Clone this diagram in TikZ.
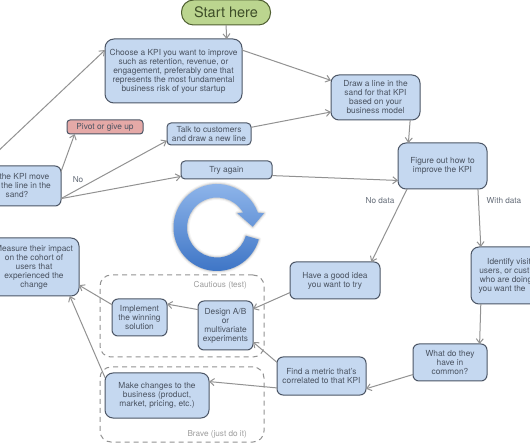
\documentclass[tikz,border=0pt]{standalone}
\usepackage{fontspec}
\setmainfont{TeX Gyre Heros}
\usetikzlibrary{arrows.meta}
\definecolor{boxfill}{HTML}{C5D8F0}
\definecolor{boxedge}{HTML}{4C5666}
\definecolor{boxtext}{HTML}{4A5361}
\definecolor{wire}{HTML}{929292}
\definecolor{ringtop}{HTML}{92B8EC}
\definecolor{ringbottom}{HTML}{3A72C4}
\tikzset{
  flowbox/.style={draw=boxedge,fill=boxfill,line width=1pt,rounded corners=6pt,inner sep=0pt,outer sep=0pt,
    align=center,text=boxtext,font=\fontsize{8.35}{9}\selectfont},
  wirearrow/.style={draw=wire,line width=1pt,-{Straight Barb[length=4.5pt,width=7pt,line width=1pt]}},
  groupbox/.style={draw=wire,line width=1pt,dash pattern=on 5pt off 4pt,rounded corners=11pt,inner sep=0pt,outer sep=0pt},
  edgetext/.style={inner sep=0pt,text=boxtext!85!white,font=\fontsize{8.2}{9}\selectfont},
  grouptext/.style={inner sep=0pt,text=black!38,font=\fontsize{8.2}{9}\selectfont},
}
\begin{document}
\begin{tikzpicture}[x=1pt,y=-1pt]
\useasboundingbox (0,0) rectangle (530,443);
\clip (0,0) rectangle (530,443);
\fill[white] (0,0) rectangle (530,443);

% dashed groups
\node[groupbox,minimum width=164pt,minimum height=82pt] (cautious) at (182,316) {};
\node[groupbox,minimum width=164pt,minimum height=75pt] (brave) at (182,404.5) {};
\node[grouptext,anchor=east] (cautiouslabel) at (247,285) {Cautious (test)};
\node[grouptext,anchor=east] (bravelabel) at (247,434) {Brave (just do it)};

% circular arrow
\begin{scope}[shift={(217,227.5)},x=1pt,y=1pt]
  \foreach \w/\o in {5/0.04,3/0.06,1.5/0.08}{
    \draw[black,opacity=\o,line width=\w pt,line join=round]
      (-16:43.5) arc[start angle=-16,end angle=-340,radius=43.5] -- (47,14.2) -- (35.7,0.8) -- (20.3,14.2) -- (30:30)
      arc[start angle=30,end angle=344,radius=30] -- cycle;
  }
  \shade[top color=ringtop,bottom color=ringbottom]
    (-16:43.5) arc[start angle=-16,end angle=-340,radius=43.5] -- (47,14.2) -- (35.7,0.8) -- (20.3,14.2) -- (30:30)
    arc[start angle=30,end angle=344,radius=30] -- cycle;
\end{scope}

% boxes
\node[flowbox,fill={rgb,255:red,187;green,213;blue,143},draw={rgb,255:red,80;green,96;blue,50},
  rounded corners=12pt,text={rgb,255:red,62;green,78;blue,40},font=\fontsize{14.5}{16}\selectfont,
  minimum width=89pt,minimum height=25pt] (start) at (226,12.5) {\raisebox{-2pt}{Start here}};
\node[flowbox,minimum width=137pt,minimum height=64pt,rounded corners=9pt] (kpi) at (173.5,71)
  {\raisebox{-1pt}{Choose a KPI you want to improve}\\\raisebox{-1pt}{such as retention, revenue, or}\\\raisebox{-1pt}{engagement, preferably one that}\\\raisebox{-1pt}{represents the most fundamental}\\\raisebox{-1pt}{business risk of your startup}};
\node[flowbox,minimum width=89pt,minimum height=45pt,rounded corners=8pt] (line) at (375.5,97.5)
  {Draw a line in the\\sand for that KPI\\based on your\\business model};
\node[flowbox,minimum width=89pt,minimum height=46pt,rounded corners=8pt] (figure) at (442.5,166)
  {Figure out how to\\improve the KPI};
\node[flowbox,fill={rgb,255:red,229;green,169;blue,167},rounded corners=3pt,
  minimum width=76pt,minimum height=14pt] (pivot) at (105,127) {Pivot or give up};
\node[flowbox,minimum width=84pt,minimum height=22pt,rounded corners=4pt] (talk) at (209,134)
  {Talk to customers\\and draw a new line};
\node[flowbox,minimum width=91pt,minimum height=18pt,rounded corners=4pt] (try) at (226.5,170) {Try again};
\node[flowbox,minimum width=88pt,minimum height=40pt] (move) at (17,186)
  {\phantom{Did }the KPI move\\\phantom{past }the line in the\\sand?};
\node[flowbox,minimum width=90pt,minimum height=58pt,rounded corners=8pt] (measure) at (34,267)
  {Measure their impact\\on the cohort of\\users that\\experienced the\\change};
\node[flowbox,minimum width=90pt,minimum height=57pt,rounded corners=8pt] (identify) at (516,275.5)
  {Identify visit\phantom{ors,}\\users, or cust\phantom{omers}\\who are doing\phantom{ what}\\you want the\phantom{m to do}};
\node[flowbox,minimum width=90pt,minimum height=37pt] (idea) at (335,280.5)
  {Have a good idea\\you want to try};
\node[flowbox,minimum width=74pt,minimum height=37pt] (common) at (450,362.5)
  {What do they\\have in\\common?};
\node[flowbox,minimum width=89pt,minimum height=38pt] (metric) at (321.5,376)
  {Find a metric that's\\correlated to that KPI};
\node[flowbox,minimum width=55pt,minimum height=49pt] (design) at (225.5,325.5)
  {Design A/B\\or\\multivariate\\experiments};
\node[flowbox,minimum width=55pt,minimum height=37pt] (implement) at (139.5,317.5)
  {Implement\\the winning\\solution};
\node[flowbox,minimum width=104pt,minimum height=45pt,rounded corners=8pt] (changes) at (157,395.5)
  {Make changes to the\\business (product,\\market, pricing, etc.)};

% connectors
\draw[wirearrow] (start.-90) -- (kpi.31);
\draw[wirearrow] (kpi.17) -- (line.159.7);
\draw[wirearrow] (talk.9.5) -- (line.198);
\draw[wirearrow] (line.-33) -- (figure.146.3);
\draw[wirearrow] (try.-7.5) -- (figure.198.6);
\draw[wirearrow] (move.18.8) -- (pivot.193);
\draw[wirearrow] (move.-16.5) -- (talk.189.5);
\draw[wirearrow] (move.-16.5) -- (try.188.7);
\draw[wirearrow] (move.150.3) -- (kpi.163);
\draw[wirearrow] (figure.213.7) -- (idea.27.2);
\draw[wirearrow] (figure.-33) -- (identify.141.6);
\draw[wirearrow] (identify.219.2) -- (common.32.5);
\draw[wirearrow] (common.198.7) -- (metric.-16.3);
\draw[wirearrow] (idea.195.5) -- (design.31);
\draw[wirearrow] (metric.163.7) -- (design.-31);
\draw[wirearrow] (metric.195) -- (changes.15.6);
\draw[wirearrow] (design.150.6) -- (implement.26.1);
\draw[wirearrow] (implement.155.6) -- (measure.-22.9);
\draw[wirearrow] (changes.161.4) -- (measure.-39.6);

% connector labels
\node[edgetext] (nolabel) at (78,180) {No};
\node[edgetext] (nodatalabel) at (380,201) {No data};
\node[edgetext] (withdatalabel) at (504,201) {With data};
\end{tikzpicture}
\end{document}
